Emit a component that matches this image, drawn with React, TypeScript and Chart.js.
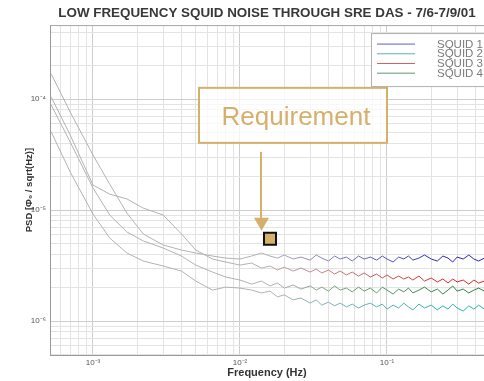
import React, { useEffect, useRef } from 'react';
import { Chart, registerables } from 'chart.js';

Chart.register(...registerables);

// ---------- data ----------
const TITLE = 'LOW FREQUENCY SQUID NOISE THROUGH SRE DAS - 7/6-7/9/01';
const X_TITLE = 'Frequency (Hz)';
const Y_TITLE = 'PSD [Φ₀ / sqrt(Hz)]';
const SERIES_LABELS = ['SQUID 1', 'SQUID 2', 'SQUID 3', 'SQUID 4'];

const X_TICK_VALUES = [0.001, 0.01, 0.1];
const X_TICK_LABELS = ['10⁻³', '10⁻²', '10⁻¹'];
const Y_TICK_VALUES = [1e-6, 1e-5, 1e-4];
const Y_TICK_LABELS = ['10⁻⁶', '10⁻⁵', '10⁻⁴'];

const X_RANGE = [5.1e-4, 0.457];
const Y_RANGE = [4.94e-7, 4.64e-4];

const FREQ = [
  0.00052, 0.0007, 0.001, 0.0013, 0.0017, 0.0022, 0.003, 0.004, 0.005, 0.0065, 0.008, 0.01,
  0.012, 0.014, 0.016, 0.018, 0.02, 0.023, 0.026, 0.03, 0.033, 0.036,
  0.04, 0.044, 0.048, 0.053, 0.058, 0.064, 0.07, 0.077, 0.085, 0.093,
  0.1, 0.11, 0.12, 0.13, 0.14, 0.15, 0.165, 0.18, 0.2, 0.22,
  0.24, 0.26, 0.28, 0.3, 0.33, 0.36, 0.39, 0.42, 0.46,
];

const SQUID1 = [
  1.68e-4, 7.64e-5, 3.13e-5, 1.71e-5, 9.4e-6, 6.08e-6, 4.84e-6, 4.36e-6, 4.1e-6, 3.85e-6, 3.69e-6, 3.62e-6,
  3.85e-6, 4.1e-6, 3.85e-6, 3.69e-6, 3.93e-6, 3.62e-6, 3.77e-6, 3.54e-6, 3.93e-6, 3.69e-6,
  3.47e-6, 3.85e-6, 3.62e-6, 3.77e-6, 3.47e-6, 3.85e-6, 3.62e-6, 3.77e-6, 3.54e-6, 3.85e-6,
  3.62e-6, 3.4e-6, 3.77e-6, 3.62e-6, 3.85e-6, 3.54e-6, 3.69e-6, 3.93e-6, 3.62e-6, 3.47e-6,
  3.85e-6, 3.69e-6, 3.4e-6, 3.77e-6, 3.62e-6, 3.93e-6, 3.62e-6, 3.47e-6, 3.69e-6,
];

const SQUID2 = [
  5.05e-5, 2.2e-5, 9.2e-6, 5.59e-6, 4.1e-6, 3.47e-6, 3.13e-6, 2.82e-6, 2.29e-6, 1.9e-6, 2.02e-6, 1.98e-6,
  1.9e-6, 1.79e-6, 1.86e-6, 1.65e-6, 1.72e-6, 1.55e-6, 1.61e-6, 1.45e-6, 1.55e-6, 1.39e-6,
  1.48e-6, 1.37e-6, 1.45e-6, 1.34e-6, 1.42e-6, 1.31e-6, 1.39e-6, 1.45e-6, 1.34e-6, 1.42e-6,
  1.28e-6, 1.39e-6, 1.31e-6, 1.45e-6, 1.34e-6, 1.26e-6, 1.42e-6, 1.31e-6, 1.39e-6, 1.26e-6,
  1.37e-6, 1.28e-6, 1.42e-6, 1.31e-6, 1.23e-6, 1.37e-6, 1.28e-6, 1.39e-6, 1.28e-6,
];

const SQUID3 = [
  1.04e-4, 4.74e-5, 1.68e-5, 1.39e-5, 1.26e-5, 1.04e-5, 9.02e-6, 6.08e-6, 4.36e-6, 3.62e-6, 3.4e-6, 3.19e-6,
  3.33e-6, 3.0e-6, 3.13e-6, 2.88e-6, 3.06e-6, 2.82e-6, 3.0e-6, 2.76e-6, 2.94e-6, 2.71e-6,
  2.88e-6, 2.65e-6, 2.82e-6, 2.6e-6, 2.76e-6, 2.54e-6, 2.71e-6, 2.49e-6, 2.65e-6, 2.44e-6,
  2.6e-6, 2.39e-6, 2.54e-6, 2.39e-6, 2.49e-6, 2.34e-6, 2.54e-6, 2.29e-6, 2.44e-6, 2.25e-6,
  2.39e-6, 2.2e-6, 2.39e-6, 2.25e-6, 2.34e-6, 2.15e-6, 2.34e-6, 2.2e-6, 2.29e-6,
];

const SQUID4 = [
  8.83e-5, 4.1e-5, 1.58e-5, 9.02e-6, 6.34e-6, 5.26e-6, 4.55e-6, 3.85e-6, 3.19e-6, 2.76e-6, 2.49e-6, 2.34e-6,
  2.15e-6, 2.29e-6, 2.07e-6, 2.2e-6, 1.98e-6, 2.11e-6, 1.94e-6, 2.07e-6, 1.9e-6, 2.02e-6,
  1.86e-6, 2.07e-6, 1.9e-6, 1.98e-6, 1.83e-6, 2.02e-6, 1.86e-6, 1.98e-6, 1.79e-6, 2.02e-6,
  1.9e-6, 1.75e-6, 1.94e-6, 1.83e-6, 1.98e-6, 1.79e-6, 1.9e-6, 2.02e-6, 1.83e-6, 1.94e-6,
  1.75e-6, 1.9e-6, 2.07e-6, 1.86e-6, 1.94e-6, 1.79e-6, 1.9e-6, 1.98e-6, 1.86e-6,
];

const REQ_LABEL = 'Requirement';
const REQ_FREQ = [0.016];
const REQ_PSD = [5.5e-6];

// ---------- styles ----------
const FONT = '"Liberation Sans", Arial, Helvetica, sans-serif';
const SERIES_RGB = [
  [40, 40, 200],
  [40, 176, 184],
  [222, 40, 40],
  [40, 136, 60],
];
const GRAY_RGB = [178, 178, 178];
const TAN = '#d6b06a';

const rgbStr = (c: number[]) => `rgb(${Math.round(c[0])},${Math.round(c[1])},${Math.round(c[2])})`;
const mix = (a: number[], b: number[], t: number) => [0, 1, 2].map((i) => a[i] + (b[i] - a[i]) * t);
const clamp = (t: number) => Math.max(0, Math.min(1, t));

const isDecade = (v: number) => {
  if (!v) return false;
  const l = Math.log10(v);
  return Math.abs(l - Math.round(l)) < 1e-6;
};

const logTicks = (min: number, max: number) => {
  const out: { value: number }[] = [];
  for (let e = -9; e <= 3; e++) {
    for (let m = 1; m <= 9; m++) {
      const v = m * Math.pow(10, e);
      if (v >= min * 0.9999 && v <= max * 1.0001) out.push({ value: v });
    }
  }
  return out;
};

const labelFor = (v: number, values: number[], labels: string[]) => {
  const i = values.findIndex((t) => Math.abs(t - v) / t < 1e-6);
  return i >= 0 ? labels[i] : '';
};

const framePlugin = {
  id: 'frame',
  beforeDatasetsDraw(chart: any) {
    const { ctx, chartArea: a } = chart;
    ctx.save();
    ctx.strokeStyle = '#a8a8a8';
    ctx.lineWidth = 1;
    ctx.beginPath();
    ctx.moveTo(a.left, a.top + 0.5);
    ctx.lineTo(a.right, a.top + 0.5);
    ctx.stroke();
    ctx.restore();
  },
};

const legendPlugin = {
  id: 'boxLegend',
  afterDraw(chart: any) {
    const { ctx, chartArea: a } = chart;
    const left = a.right - 113;
    const top = a.top + 8;
    const h = 53;
    ctx.save();
    ctx.fillStyle = '#ffffff';
    ctx.fillRect(left, top, 140, h);
    ctx.strokeStyle = '#b0b0b0';
    ctx.lineWidth = 1;
    ctx.strokeRect(left + 0.5, top + 0.5, 140, h);
    ctx.font = `11.5px ${FONT}`;
    ctx.textBaseline = 'middle';
    ctx.textAlign = 'left';
    const sets = chart.data.datasets.filter((d: any) => SERIES_LABELS.includes(d.label));
    sets.forEach((d: any, i: number) => {
      const y = top + 11 + i * 9.7;
      ctx.strokeStyle = rgbStr(mix(GRAY_RGB, d.rgb, 0.6));
      ctx.beginPath();
      ctx.moveTo(left + 6, y);
      ctx.lineTo(left + 44, y);
      ctx.stroke();
      ctx.fillStyle = '#7a7a7a';
      ctx.fillText(d.label, left + 66, y + 0.5);
    });
    ctx.restore();
  },
};

const annotationPlugin = {
  id: 'reqAnnotation',
  afterDatasetsDraw(chart: any) {
    const idx = chart.data.datasets.findIndex((d: any) => d.label === REQ_LABEL);
    if (idx < 0) return;
    const pt = chart.getDatasetMeta(idx).data[0];
    if (!pt) return;
    const { x, y } = pt;
    const ctx = chart.ctx;
    ctx.save();
    ctx.fillStyle = 'rgba(255,255,255,0.75)';
    ctx.fillRect(x - 71, y - 151, 188, 55);
    ctx.strokeStyle = TAN;
    ctx.lineWidth = 2;
    ctx.strokeRect(x - 71, y - 151, 188, 55);
    ctx.fillStyle = TAN;
    ctx.font = `26px ${FONT}`;
    ctx.textAlign = 'center';
    ctx.textBaseline = 'alphabetic';
    ctx.fillText(REQ_LABEL, x + 26, y - 114);
    ctx.beginPath();
    ctx.moveTo(x - 9, y - 87);
    ctx.lineTo(x - 9, y - 20);
    ctx.stroke();
    ctx.beginPath();
    ctx.moveTo(x - 16, y - 21);
    ctx.lineTo(x - 1, y - 21);
    ctx.lineTo(x - 8.5, y - 8);
    ctx.closePath();
    ctx.fill();
    ctx.restore();
  },
};

export default function App() {
  const ref = useRef<HTMLCanvasElement>(null);

  useEffect(() => {
    if (!ref.current) return;
    Chart.defaults.font.family = FONT;
    const seriesValues = [SQUID1, SQUID2, SQUID3, SQUID4];
    const datasets: any[] = seriesValues.map((vals, i) => ({
      label: SERIES_LABELS[i],
      rgb: SERIES_RGB[i],
      data: FREQ.map((f, j) => ({ x: f, y: vals[j] })),
      borderColor: rgbStr(SERIES_RGB[i]),
      borderWidth: 1,
      pointRadius: 0,
      tension: 0,
      segment: {
        borderColor: (c: any) => {
          const a = c.chart.chartArea;
          const px = (c.p0.x + c.p1.x) / 2;
          const t = clamp((px - (a.left + a.width * 0.5)) / (a.width * 0.4));
          return rgbStr(mix(GRAY_RGB, SERIES_RGB[i], t));
        },
      },
    }));
    datasets.push({
      label: REQ_LABEL,
      type: 'scatter',
      order: -1,
      data: REQ_FREQ.map((f, j) => ({ x: f, y: REQ_PSD[j] })),
      showLine: false,
      pointStyle: 'rect',
      pointRadius: 8.5,
      backgroundColor: TAN,
      borderColor: '#111',
      borderWidth: 2,
    });

    const chart = new Chart(ref.current, {
      type: 'line',
      data: { datasets },
      plugins: [framePlugin, annotationPlugin, legendPlugin],
      options: {
        responsive: false,
        animation: false,
        layout: { padding: 0, autoPadding: false },
        plugins: {
          legend: { display: false },
          tooltip: { enabled: false },
          title: {
            display: true,
            text: TITLE,
            fullSize: false,
            color: '#383838',
            font: { size: 13.4, weight: 'bold', family: FONT },
            padding: { top: 5, bottom: 4 },
          },
        },
        scales: {
          x: {
            type: 'logarithmic',
            min: X_RANGE[0],
            max: X_RANGE[1],
            afterBuildTicks: (s: any) => {
              s.ticks = logTicks(s.min, s.max);
            },
            afterFit: (s: any) => {
              s.height = 26;
              s.paddingLeft = 0;
              s.paddingRight = 0;
            },
            ticks: {
              autoSkip: false,
              maxRotation: 0,
              padding: 3,
              color: '#555',
              font: { size: 8 },
              callback: (v: any) => labelFor(Number(v), X_TICK_VALUES, X_TICK_LABELS),
            },
            grid: {
              drawTicks: false,
              lineWidth: 1,
              color: (c: any) => (c.tick && isDecade(c.tick.value) ? '#cdcdcd' : '#e3e3e3'),
            },
            border: { display: true, color: '#9a9a9a' },
            title: {
              display: true,
              text: X_TITLE,
              color: '#333',
              font: { size: 11, weight: 'bold' },
              padding: { top: 0, bottom: 1.4 },
            },
          },
          y: {
            type: 'logarithmic',
            min: Y_RANGE[0],
            max: Y_RANGE[1],
            afterBuildTicks: (s: any) => {
              s.ticks = logTicks(s.min, s.max);
            },
            afterFit: (s: any) => {
              s.width = 50;
              s.paddingTop = 0;
              s.paddingBottom = 0;
            },
            ticks: {
              autoSkip: false,
              padding: 4,
              color: '#555',
              font: { size: 8 },
              callback: (v: any) => labelFor(Number(v), Y_TICK_VALUES, Y_TICK_LABELS),
            },
            grid: {
              drawTicks: false,
              lineWidth: 1,
              color: (c: any) => (c.tick && isDecade(c.tick.value) ? '#cdcdcd' : '#e3e3e3'),
            },
            border: { display: true, color: '#9a9a9a' },
            title: {
              display: true,
              text: Y_TITLE,
              color: '#333',
              font: { size: 9.5, weight: 'bold' },
              padding: { top: 23.3, bottom: 0 },
            },
          },
        },
      } as any,
    });
    return () => chart.destroy();
  }, []);

  return (
    <div style={{ position: 'absolute', left: 0, top: 0, width: 484, height: 381, background: '#fff' }}>
      <canvas ref={ref} width={484} height={381} />
    </div>
  );
}
